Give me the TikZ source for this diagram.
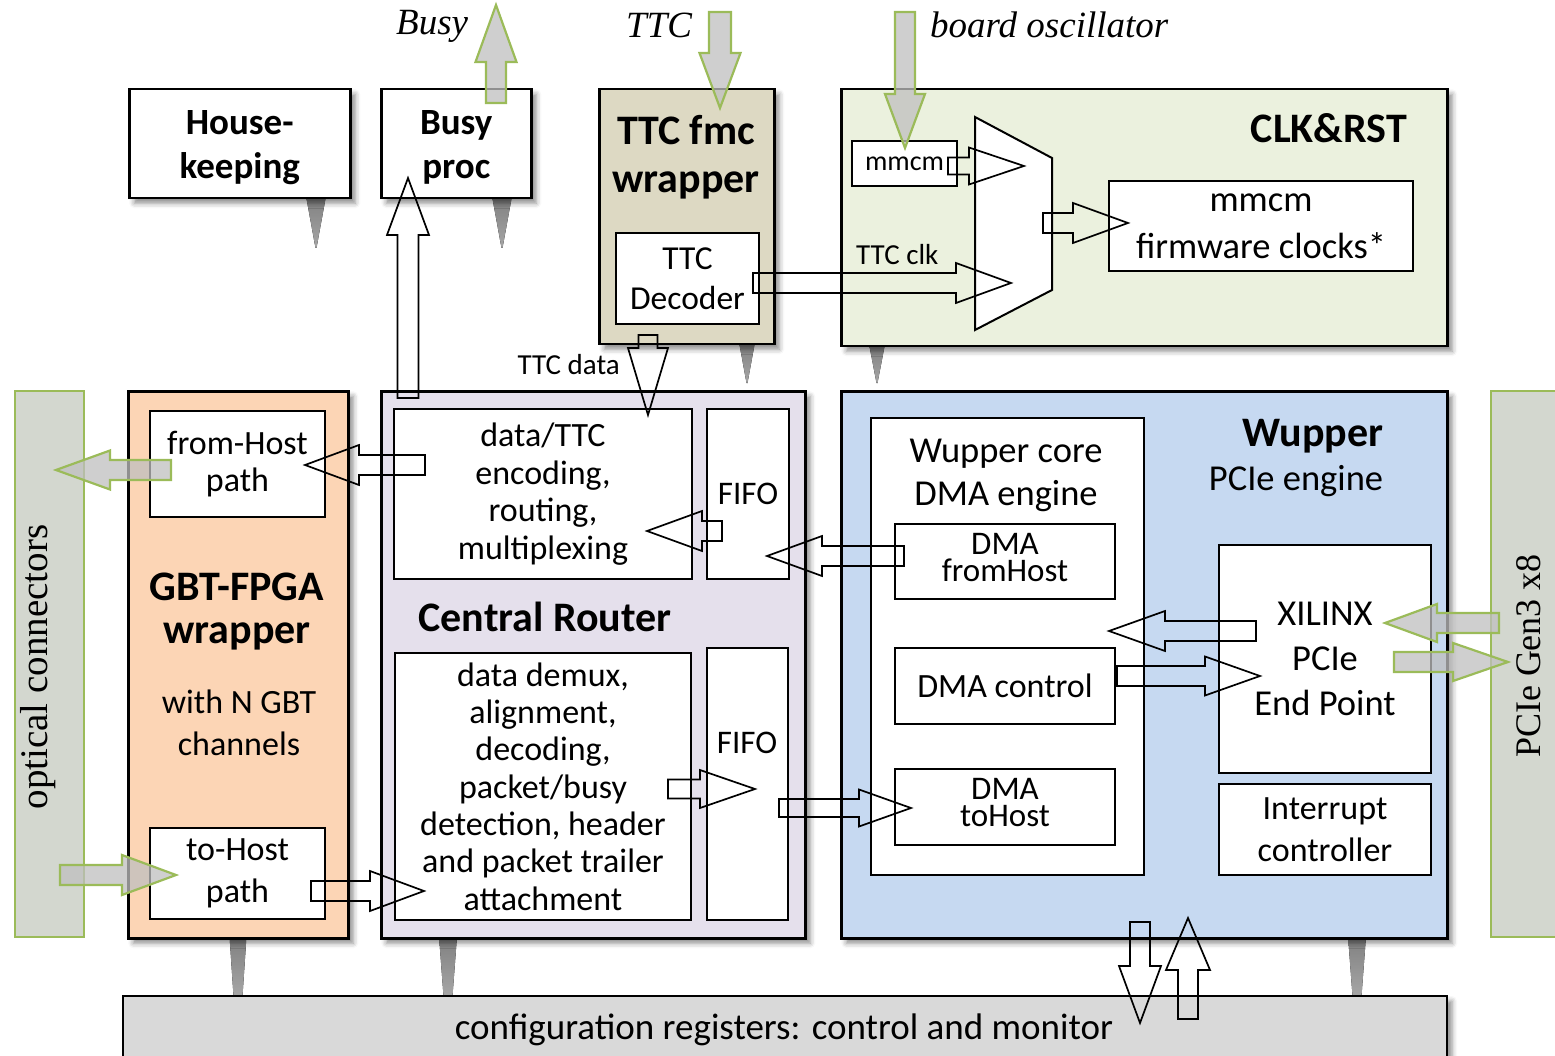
\documentclass[tikz,border=0pt]{standalone}
\usepackage{fontspec}
\setmainfont{Carlito}
\newfontfamily\capfont{Liberation Serif}
\usetikzlibrary{calc,shadows.blur}

\definecolor{ttcbg}{HTML}{DDD9C3}
\definecolor{clkbg}{HTML}{EBF1DE}
\definecolor{gbtbg}{HTML}{FCD5B5}
\definecolor{crbg}{HTML}{E5E0EC}
\definecolor{wupbg}{HTML}{C6D9F1}
\definecolor{portbg}{HTML}{D3D7CF}
\definecolor{portline}{HTML}{9BBB59}
\definecolor{regbg}{HTML}{D9D9D9}

\newcommand\fs[2]{\fontsize{#1}{#2}\selectfont}

% block arrow: [style]{from}{tip}{shaft half width}{head half width}{head length}
\newcommand\blockarrow[6][]{%
  \path (#2) coordinate (bA) (#3) coordinate (bB);
  \path let \p1=($(bB)-(bA)$) in \pgfextra{%
    \pgfmathparse{veclen(\x1,\y1)}\global\let\bAlen\pgfmathresult
    \pgfmathparse{atan2(\y1,\x1)}\global\let\bAang\pgfmathresult};
  \begin{scope}[shift={(bA)},rotate=\bAang,x=1pt,y=1pt]
    \draw[#1] (0,-#4) -- ({\bAlen-#6},-#4) -- ({\bAlen-#6},-#5) -- (\bAlen,0)
      -- ({\bAlen-#6},#5) -- ({\bAlen-#6},#4) -- (0,#4) -- cycle;
  \end{scope}}

% tapered grey link: {x centre}{y top}{y bottom}{top half width}{bottom half width}
\newcommand\taper[5]{%
  \fill[taperlink] (#1-#4,#2) -- (#1+#4,#2) -- (#1+#5,#3) -- (#1-#5,#3) -- cycle;}

\tikzset{
  box/.style={draw=black, line width=2.5pt, fill=white, anchor=north west,
    inner sep=0pt, align=center,
    blur shadow={shadow xshift=5pt, shadow yshift=-5pt, shadow blur radius=5pt, shadow opacity=45}},
  innerbox/.style={draw=black, line width=2pt, fill=white, anchor=north west,
    inner sep=0pt, align=center},
  port/.style={draw=portline, line width=2pt, fill=portbg, anchor=north west, inner sep=0pt},
  holarr/.style={draw=black, line width=1.7pt, line join=miter},
  grnarr/.style={draw=portline, line width=2.2pt, fill=black!25, fill opacity=0.75},
  taperlink/.style={top color=black!50, bottom color=black!35},
  title/.style={font=\bfseries\fs{42}{46}, anchor=base, inner sep=0pt},
  txt/.style={anchor=base, inner sep=0pt},
  boxtext/.style={inner sep=0pt, align=center},
  toplabel/.style={anchor=base west, inner sep=0pt, font=\capfont\itshape\fs{37}{40}},
}

\begin{document}
\begin{tikzpicture}[x=1pt,y=-1pt]
\useasboundingbox (0,0) rectangle (1555,1056);

% links into the register bank and status lines
\taper{316}{196}{248}{10}{0.5}
\taper{502}{196}{248}{10}{0.5}
\taper{747}{342}{383}{8}{0.5}
\taper{877}{344}{383}{8}{0.5}
\taper{238}{936}{996}{8.5}{4.5}
\taper{448}{936}{996}{9}{4.5}
\taper{1357}{936}{996}{9}{4.5}

% top row
\node[box, minimum width=221pt, minimum height=109pt] (hk) at (128,88) {};
\node[boxtext, font=\bfseries\fs{37}{44}] (hk-t) at ($(hk.center)+(0,4)$) {House-\\keeping};
\node[box, minimum width=150pt, minimum height=109pt] (busyp) at (380,88) {};
\node[boxtext, font=\bfseries\fs{37}{44}] (busyp-t) at ($(busyp.center)+(0,4)$) {Busy\\proc};

\node[box, fill=ttcbg, minimum width=175pt, minimum height=255pt] (ttcw) at (598,88) {};
\node[title] (ttcw-t1) at (686,145) {TTC fmc};
\node[title] (ttcw-t2) at (686,193) {wrapper};
\node[innerbox, minimum width=143pt, minimum height=91pt, font=\fs{33.5}{40}] (ttcdec) at (615,232) {TTC\\Decoder};

\node[box, fill=clkbg, minimum width=606pt, minimum height=257pt] (clk) at (840,88) {};
\node[title, anchor=base east] (clk-t) at (1407,143) {CLK\&RST};
\node[innerbox, minimum width=105pt, minimum height=45pt, font=\fs{28}{30}] (mmcm) at (851,140) {mmcm};
\node[innerbox, minimum width=304pt, minimum height=90pt, font=\fs{36.5}{47}] (fwclk) at (1108,180) {mmcm\\firmware clocks*};
\draw[line width=2pt, fill=white] (975,117) -- (1052,158) -- (1052,290) -- (975,330) -- cycle;
\node[txt, anchor=base west, font=\fs{29}{30}] (ttcclk-l) at (856,265) {TTC clk};
\node[txt, anchor=base east, font=\fs{29}{30}] (ttcdata-l) at (620,374) {TTC data};

% side connectors
\node[port, minimum width=69pt, minimum height=546pt] (optical) at (14,390) {};
\node[rotate=90, inner sep=0pt, font=\capfont\fs{39}{40}] (optical-t) at (38,667) {optical connectors};
\node[port, minimum width=90pt, minimum height=546pt] (pcie) at (1490,390) {};
\node[rotate=90, inner sep=0pt, font=\capfont\fs{36}{40}] (pcie-t) at (1529,656) {PCIe Gen3 x8};

% GBT-FPGA wrapper
\node[box, fill=gbtbg, minimum width=220pt, minimum height=547pt] (gbt) at (127,390) {};
\node[innerbox, minimum width=175pt, minimum height=106pt, font=\fs{34}{37}] (fromhost) at (149,410) {from-Host\\path};
\node[title] (gbt-t1) at (237,600) {GBT-FPGA};
\node[title] (gbt-t2) at (237,643) {wrapper};
\node[txt, font=\fs{34}{40}] (gbt-s1) at (239,713) {with N GBT};
\node[txt, font=\fs{34}{40}] (gbt-s2) at (239,755) {channels};
\node[innerbox, minimum width=175pt, minimum height=91pt, font=\fs{34}{42}] (tohost) at (149,827) {to-Host\\path};

% Central Router
\node[box, fill=crbg, minimum width=424pt, minimum height=547pt] (cr) at (380,390) {};
\node[innerbox, minimum width=298pt, minimum height=170pt, font=\fs{34}{37.5}] (dttc) at (393,408) {data/TTC\\encoding,\\routing,\\multiplexing};
\node[innerbox, minimum width=82pt, minimum height=170pt, font=\fs{33}{37}] (fifo1) at (706,408) {FIFO};
\node[title] (cr-t) at (545,631) {Central Router};
\node[innerbox, minimum width=296pt, minimum height=267pt, font=\fs{34}{37.3}] (demux) at (394,652) {data demux,\\alignment,\\decoding,\\packet/busy\\detection, header\\and packet trailer\\attachment};
\node[innerbox, minimum width=81pt, minimum height=272pt] (fifo2) at (706,647) {};
\node[txt, font=\fs{33}{37}] (fifo2-t) at (747,753) {FIFO};

% Wupper
\node[box, fill=wupbg, minimum width=606pt, minimum height=547pt] (wup) at (840,390) {};
\node[title] (wup-t) at (1313,446) {Wupper};
\node[txt, font=\fs{36.5}{40}] (wup-s) at (1296,490) {PCIe engine};
\node[innerbox, minimum width=273pt, minimum height=457pt] (core) at (870,417) {};
\node[txt, font=\fs{36.5}{40}] (core-t1) at (1006,462) {Wupper core};
\node[txt, font=\fs{36.5}{40}] (core-t2) at (1006,505) {DMA engine};
\node[innerbox, minimum width=220pt, minimum height=75pt] (dmafh) at (894,523) {};
\node[boxtext, font=\fs{33}{27}] (dmafh-t) at ($(dmafh.center)+(0,-4)$) {DMA\\fromHost};
\node[innerbox, minimum width=220pt, minimum height=76pt, font=\fs{34}{30}] (dmactl) at (894,647) {DMA control};
\node[innerbox, minimum width=220pt, minimum height=76pt] (dmath) at (894,768) {};
\node[boxtext, font=\fs{33}{27}] (dmath-t) at ($(dmath.center)+(0,-4)$) {DMA\\toHost};
\node[innerbox, minimum width=212pt, minimum height=228pt, font=\fs{36.5}{45}] (xil) at (1218,544) {XILINX\\PCIe\\End Point};
\node[innerbox, minimum width=212pt, minimum height=91pt, font=\fs{34}{42}] (intr) at (1218,783) {Interrupt\\controller};

% register bank
\node[box, fill=regbg, line width=2pt, minimum width=1324pt, minimum height=80pt] (regs) at (122,995) {};
\node[txt, font=\fs{37}{40}] (regs-t) at (784,1039) {configuration registers: control and monitor};

% external signal labels
\node[toplabel] (busy-l) at (396,35) {Busy};
\node[toplabel] (ttc-l) at (626,38) {TTC};
\node[toplabel] (osc-l) at (930,38) {board oscillator};

% internal data paths
\blockarrow[holarr]{948,166}{1024,166}{8.5}{18.5}{55}
\blockarrow[holarr]{1043,223}{1128,223}{10}{20}{55}
\blockarrow[holarr]{753,283}{1011,283}{10}{20}{55}
\blockarrow[holarr]{648,335}{648,415}{9.5}{20}{67}
\blockarrow[holarr]{408,398}{408,178}{10.5}{21}{57}
\blockarrow[holarr]{425,465}{305,465}{10}{20}{54}
\blockarrow[holarr]{311,891}{424,891}{10}{20}{54}
\blockarrow[holarr]{722,531}{647,531}{10}{20}{55}
\blockarrow[holarr]{904,556}{767,556}{10}{20}{55}
\blockarrow[holarr]{668,789}{755,789}{9.5}{19}{55}
\blockarrow[holarr]{779,808}{911,808}{9}{18.5}{52}
\blockarrow[holarr]{1256,631}{1109,631}{10}{20}{56}
\blockarrow[holarr]{1117,676}{1260,676}{10}{19.5}{55}
\blockarrow[holarr]{1140,922}{1140,1023}{10}{21}{57}
\blockarrow[holarr]{1188,1019}{1188,918}{10}{22}{52}

% external links
\blockarrow[grnarr]{496,103}{496,5}{10}{20.5}{57}
\blockarrow[grnarr]{720,12}{720,108}{11}{20.5}{55}
\blockarrow[grnarr]{905,12}{905,148}{10}{20}{54}
\blockarrow[grnarr]{171,470}{56,470}{10}{19.5}{54}
\blockarrow[grnarr]{60,875}{176,875}{10}{20}{54}
\blockarrow[grnarr]{1499,623}{1385,623}{10}{19}{52}
\blockarrow[grnarr]{1394,662}{1508,662}{10}{19}{55}
\end{tikzpicture}
\end{document}
